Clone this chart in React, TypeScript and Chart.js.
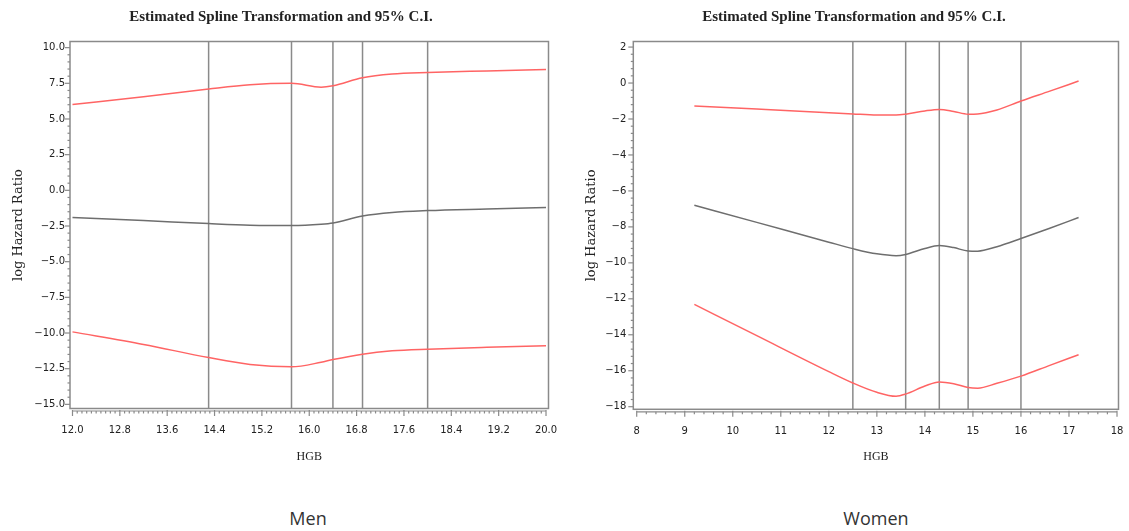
import React, { useEffect, useRef } from "react";
import { Chart, registerables } from "chart.js";

Chart.register(...registerables);

// ---------- data ----------
const panelTitle = "Estimated Spline Transformation and 95% C.I.";
const xAxisTitle = "HGB";
const yAxisTitle = "log Hazard Ratio";
const panelLabels = ["Men", "Women"];

const menHgb = [12.0, 13.2, 14.3, 15.0, 15.7, 16.2, 16.4, 16.9, 17.4, 18.0, 19.0, 20.0];
const menEstimate = [-1.91, -2.12, -2.33, -2.44, -2.47, -2.38, -2.29, -1.8, -1.55, -1.42, -1.31, -1.21];
const menUpper = [6.02, 6.55, 7.1, 7.4, 7.5, 7.23, 7.33, 7.89, 8.15, 8.26, 8.37, 8.47];
const menLower = [-9.92, -10.8, -11.72, -12.2, -12.37, -12.05, -11.86, -11.48, -11.25, -11.13, -11.0, -10.9];
const menKnots = [14.3, 15.7, 16.4, 16.9, 18.0];
const menXTicks = [12.0, 12.8, 13.6, 14.4, 15.2, 16.0, 16.8, 17.6, 18.4, 19.2, 20.0];
const menYTicks = [-15, -12.5, -10, -7.5, -5, -2.5, 0, 2.5, 5, 7.5, 10];

const womenHgb = [9.2, 10.5, 12.0, 12.5, 13.0, 13.4, 13.6, 14.0, 14.3, 14.6, 14.9, 15.1, 15.5, 16.0, 16.6, 17.2];
const womenEstimate = [-6.8, -7.75, -8.85, -9.21, -9.5, -9.6, -9.53, -9.2, -9.04, -9.15, -9.34, -9.35, -9.1, -8.65, -8.08, -7.48];
const womenUpper = [-1.28, -1.45, -1.65, -1.72, -1.78, -1.78, -1.73, -1.55, -1.47, -1.58, -1.73, -1.72, -1.5, -1.0, -0.45, 0.11];
const womenLower = [-12.31, -14.05, -16.05, -16.68, -17.2, -17.42, -17.3, -16.85, -16.62, -16.72, -16.93, -16.97, -16.7, -16.3, -15.7, -15.11];
const womenKnots = [12.5, 13.6, 14.3, 14.9, 16.0];
const womenXTicks = [8, 9, 10, 11, 12, 13, 14, 15, 16, 17, 18];
const womenYTicks = [-18, -16, -14, -12, -10, -8, -6, -4, -2, 0, 2];

// ---------- style ----------
const FRAME = "#8a8a8a";
const EST = "#6e6e6e";
const CI = "#ff6464";
const TEXT = "#222";
const CANVAS_H = 470;

type Panel = {
  hgb: number[]; est: number[]; upper: number[]; lower: number[];
  knots: number[]; xTicks: number[]; yTicks: number[]; decimals: number;
  xMin: number; xMax: number; yMin: number; yMax: number;
  left: number; width: number; padL: number; padR: number;
  yAxisW: number; xAxisH: number; yTitlePad: number;
  xMinor: number; yMinor: number; yLabelPad: number;
};

const panels: Panel[] = [
  {
    hgb: menHgb, est: menEstimate, upper: menUpper, lower: menLower,
    knots: menKnots, xTicks: menXTicks, yTicks: menYTicks, decimals: 1,
    xMin: 11.958, xMax: 20.042, yMin: -15.29, yMax: 10.43,
    left: 0, width: 562, padL: 13.5, padR: 13.5,
    yAxisW: 56.5, xAxisH: 61.5, yTitlePad: -3,
    xMinor: 10, yMinor: 5, yLabelPad: 5,
  },
  {
    hgb: womenHgb, est: womenEstimate, upper: womenUpper, lower: womenLower,
    knots: womenKnots, xTicks: womenXTicks, yTicks: womenYTicks, decimals: 0,
    xMin: 7.929, xMax: 18.031, yMin: -18.145, yMax: 2.31,
    left: 572, width: 557, padL: 17.5, padR: 10.5,
    yAxisW: 43.8, xAxisH: 60.7, yTitlePad: -5.6,
    xMinor: 5, yMinor: 5, yLabelPad: 7,
  },
];

const fmt = (v: number, d: number) => {
  const s = Math.abs(v).toFixed(d);
  return v < 0 ? "\u2212" + s : s;
};

const sasFrame = {
  id: "sasFrame",
  beforeDatasetsDraw(chart: any, _args: any, opts: any) {
    const { ctx, chartArea: a, scales } = chart;
    const x = scales.x, y = scales.y;
    const line = (x0: number, y0: number, x1: number, y1: number) => {
      ctx.beginPath(); ctx.moveTo(x0, y0); ctx.lineTo(x1, y1); ctx.stroke();
    };
    ctx.save();
    ctx.strokeStyle = FRAME;
    ctx.lineWidth = 1.5;
    for (const k of opts.knots) {
      const px = x.getPixelForValue(k);
      line(px, a.top, px, a.bottom);
    }
    ctx.strokeRect(a.left, a.top, a.right - a.left, a.bottom - a.top);
    // x axis
    const ay = a.bottom + 2.5;
    const xt: number[] = opts.xTicks;
    ctx.lineWidth = 1.2;
    line(x.getPixelForValue(xt[0]), ay, x.getPixelForValue(xt[xt.length - 1]), ay);
    xt.forEach((v, i) => {
      const px = x.getPixelForValue(v);
      line(px, ay - 1, px, ay + 5);
      if (i < xt.length - 1) {
        for (let j = 1; j < opts.xMinor; j++) {
          const mv = v + ((xt[i + 1] - v) * j) / opts.xMinor;
          const mp = x.getPixelForValue(mv);
          line(mp, ay, mp, ay + 2.5);
        }
      }
    });
    const yt: number[] = opts.yTicks;
    yt.forEach((v, i) => {
      const py = y.getPixelForValue(v);
      line(a.left - 5, py, a.left, py);
      if (i < yt.length - 1) {
        for (let j = 1; j < opts.yMinor; j++) {
          const mv = v + ((yt[i + 1] - v) * j) / opts.yMinor;
          const mp = y.getPixelForValue(mv);
          line(a.left - 2.5, mp, a.left, mp);
        }
      }
    });
    ctx.restore();
  },
};

function PanelChart({ p }: { p: Panel }) {
  const ref = useRef<HTMLCanvasElement | null>(null);
  useEffect(() => {
    if (!ref.current) return;
    const mk = (vals: number[], color: string) => ({
      data: p.hgb.map((h, i) => ({ x: h, y: vals[i] })),
      borderColor: color,
      borderWidth: 1.5,
      pointRadius: 0,
      showLine: true,
      fill: false,
      cubicInterpolationMode: "monotone" as const,
    });
    const tickFont = { family: "DejaVu Sans", size: 10 };
    const chart = new Chart(ref.current, {
      type: "scatter",
      data: { datasets: [mk(p.upper, CI), mk(p.lower, CI), mk(p.est, EST)] },
      plugins: [sasFrame],
      options: {
        responsive: false,
        animation: false,
        events: [],
        layout: { padding: { left: p.padL, right: p.padR, top: 0, bottom: 0 } },
        plugins: {
          legend: { display: false },
          tooltip: { enabled: false },
          title: {
            display: true,
            text: panelTitle,
            color: TEXT,
            font: { family: "Liberation Serif", size: 15, weight: "bold", lineHeight: 1.2 },
            padding: { top: 7.7, bottom: 15.8 },
          },
          // @ts-ignore
          sasFrame: { knots: p.knots, xTicks: p.xTicks, yTicks: p.yTicks, xMinor: p.xMinor, yMinor: p.yMinor },
        },
        scales: {
          x: {
            type: "linear",
            min: p.xMin,
            max: p.xMax,
            grid: { display: false, drawTicks: false },
            border: { display: false },
            afterBuildTicks: (s: any) => { s.ticks = p.xTicks.map((v) => ({ value: v })); },
            afterFit: (s: any) => { s.height = p.xAxisH; s.paddingLeft = 0; s.paddingRight = 0; },
            ticks: {
              padding: 16,
              color: TEXT,
              font: tickFont,
              maxRotation: 0,
              autoSkip: false,
              callback: (v: any) => fmt(Number(v), p.decimals),
            },
            title: {
              display: true,
              text: xAxisTitle,
              color: TEXT,
              font: { family: "Liberation Serif", size: 12, lineHeight: 1.2 },
              padding: { top: 0, bottom: 5.8 },
            },
          },
          y: {
            type: "linear",
            min: p.yMin,
            max: p.yMax,
            grid: { display: false, drawTicks: false },
            border: { display: false },
            afterBuildTicks: (s: any) => { s.ticks = p.yTicks.map((v) => ({ value: v })); },
            afterFit: (s: any) => { s.width = p.yAxisW; s.paddingTop = 0; s.paddingBottom = 0; },
            ticks: {
              padding: p.yLabelPad,
              color: TEXT,
              font: tickFont,
              autoSkip: false,
              callback: (v: any) => fmt(Number(v), p.decimals),
            },
            title: {
              display: true,
              text: yAxisTitle,
              color: TEXT,
              font: { family: "DejaVu Serif", size: 13, lineHeight: 1.2 },
              padding: { top: p.yTitlePad, bottom: 0 },
            },
          },
        },
      } as any,
    });
    return () => chart.destroy();
  }, [p]);
  return (
    <canvas
      ref={ref}
      width={p.width}
      height={CANVAS_H}
      style={{ position: "absolute", left: p.left, top: 0, width: p.width, height: CANVAS_H }}
    />
  );
}

const labelCenters = [308, 876];

export default function App() {
  return (
    <div style={{ position: "absolute", left: 0, top: 0, width: 1129, height: 531, background: "#fff", overflow: "hidden" }}>
      {panels.map((p, i) => (
        <PanelChart key={i} p={p} />
      ))}
      {panelLabels.map((t, i) => (
        <div
          key={t}
          style={{
            position: "absolute",
            left: labelCenters[i] - 100,
            width: 200,
            top: 506,
            height: 24,
            lineHeight: "24px",
            textAlign: "center",
            fontFamily: "'Open Sans', sans-serif",
            fontSize: 18,
            color: "#333",
          }}
        >
          {t}
        </div>
      ))}
    </div>
  );
}
